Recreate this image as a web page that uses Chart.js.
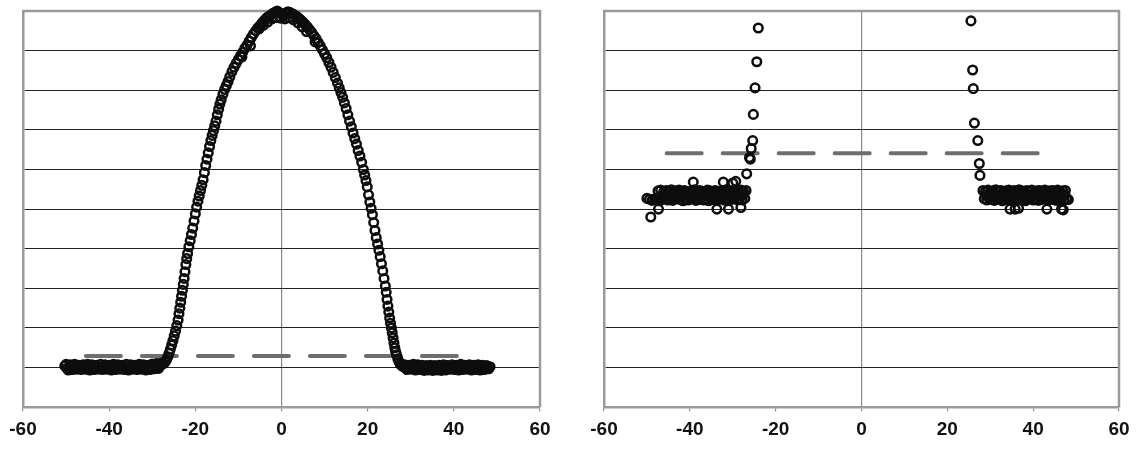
<!DOCTYPE html>
<html>
<head>
<meta charset="utf-8">
<script src="https://cdn.jsdelivr.net/npm/chart.js@4/dist/chart.umd.min.js"></script>
<style>
  body { margin: 0; background: #fff; }
  #wrap { position: relative; width: 1138px; height: 449px; overflow: hidden; }
  .box { position: absolute; top: 0; height: 449px; }
  #leftBox { left: 0; width: 570px; }
  #rightBox { left: 575px; width: 563px; }
</style>
</head>
<body>
<div id="wrap">
  <div class="box" id="leftBox"><canvas id="leftChart"></canvas></div>
  <div class="box" id="rightBox"><canvas id="rightChart"></canvas></div>
</div>
<script>
// x axis tick labels (shared by both panels)
const xTicks = [-60, -40, -20, 0, 20, 40, 60];

// Left panel: bell shaped profile
const leftX = [
  -50.3, -49.8, -49.3, -48.8, -48.3, -47.8, -47.3, -46.8, -46.3, -45.8, -45.3, -44.8, -44.3, -43.8, -43.3, -42.8,
  -42.3, -41.8, -41.3, -40.8, -40.3, -39.8, -39.3, -38.8, -38.3, -37.8, -37.3, -36.8, -36.3, -35.8, -35.3, -34.8,
  -34.3, -33.8, -33.3, -32.8, -32.3, -31.8, -31.3, -30.8, -30.3, -29.8, -29.3, -28.8, -28.3, -27.8, -27.4,
  -27.0, -26.7, -26.4, -26.1, -25.8, -25.5, -25.2, -24.9, -24.6, -24.3, -24.0, -23.8, -23.6, -23.4, -23.2, -23.0,
  -22.8, -22.6, -22.4, -22.2, -22.0, -21.8, -21.5, -21.2, -20.9, -20.6, -20.3, -20.0, -19.7, -19.4, -19.1, -18.8,
  -18.5, -18.2, -17.9, -17.6, -17.3, -17.0, -16.7, -16.4, -16.1, -15.8, -15.5, -15.2, -14.9, -14.6, -14.3, -14.0,
  -13.6, -13.2, -12.8, -12.4, -12.0, -11.5, -11.0, -10.5, -10.0, -9.5, -9.0, -8.5, -8.0, -7.5, -7.0, -6.5,
  -6.0, -5.5, -5.0, -4.5, -4.0, -3.5, -3.0, -2.5, -2.0, -1.5, -1.0, -0.5, 0.0, 0.5, 1.0, 1.5,
  2.0, 2.5, 3.0, 3.5, 4.0, 4.5, 5.0, 5.5, 6.0, 6.5, 7.0, 7.5, 8.0, 8.5, 9.0, 9.5,
  10.0, 10.5, 11.0, 11.5, 12.0, 12.5, 13.0, 13.4, 13.8, 14.2, 14.6, 15.0, 15.4, 15.8, 16.2, 16.6,
  17.0, 17.4, 17.8, 18.2, 18.6, 19.0, 19.3, 19.6, 19.9, 20.2, 20.5, 20.8, 21.1, 21.4, 21.7, 22.0,
  22.3, 22.6, 22.9, 23.2, 23.5, 23.8, 24.1, 24.3, 24.5, 24.7, 24.9, 25.1, 25.3, 25.5, 25.7, 25.9,
  26.1, 26.3, 26.5, 26.7, 27.0, 27.3, 27.6, 28.0,
  28.4, 28.9, 29.4, 29.9, 30.4, 30.9, 31.4, 31.9, 32.4, 32.9, 33.4, 33.9, 34.4, 34.9, 35.4, 35.9,
  36.4, 36.9, 37.4, 37.9, 38.4, 38.9, 39.4, 39.9, 40.4, 40.9, 41.4, 41.9, 42.4, 42.9, 43.4, 43.9,
  44.4, 44.9, 45.4, 45.9, 46.4, 46.9, 47.4, 47.9, 48.4,
  -9.2, -7.2, -5.2, -4.2, -3.2, -2.2, -1.2, -0.2, 0.8, 1.8, 2.8, 3.8, 4.8, 5.8, 7.8
];
const leftY = [
  1.04, 0.98, 0.96, 1.02, 1.05, 1.00, 0.99, 1.03, 1.06, 1.01, 0.98, 1.04, 1.02, 0.99, 1.05, 1.03,
  1.00, 0.97, 1.02, 1.06, 1.01, 0.99, 1.03, 1.05, 1.00, 0.98, 1.02, 1.04, 1.01, 0.97, 1.00, 1.03,
  1.05, 1.02, 0.99, 1.01, 1.06, 1.03, 0.98, 1.00, 1.04, 1.07, 1.02, 0.99, 1.03, 1.08, 1.10,
  1.14, 1.20, 1.27, 1.36, 1.46, 1.57, 1.68, 1.80, 1.92, 2.06, 2.20, 2.36, 2.50, 2.65, 2.80, 2.95,
  3.10, 3.25, 3.42, 3.60, 3.75, 3.88, 4.05, 4.20, 4.36, 4.52, 4.70, 4.88, 5.05, 5.20, 5.33, 5.47,
  5.60, 5.74, 5.92, 6.10, 6.26, 6.42, 6.58, 6.73, 6.86, 6.98, 7.10, 7.22, 7.38, 7.52, 7.65, 7.76,
  7.90, 8.02, 8.12, 8.22, 8.34, 8.47, 8.58, 8.68, 8.78, 8.87, 8.96, 9.06, 9.14, 9.24, 9.33, 9.42,
  9.50, 9.57, 9.63, 9.70, 9.76, 9.82, 9.86, 9.90, 9.94, 9.97, 10.00, 9.96, 9.92, 9.88, 9.95, 9.98,
  9.96, 9.93, 9.90, 9.86, 9.82, 9.77, 9.72, 9.66, 9.60, 9.53, 9.46, 9.38, 9.30, 9.21, 9.12, 9.02,
  8.92, 8.82, 8.70, 8.58, 8.45, 8.32, 8.18, 8.06, 7.94, 7.82, 7.68, 7.54, 7.38, 7.22, 7.08, 6.92,
  6.78, 6.64, 6.48, 6.34, 6.18, 6.00, 5.86, 5.72, 5.56, 5.36, 5.18, 5.02, 4.86, 4.66, 4.46, 4.28,
  4.12, 3.96, 3.80, 3.62, 3.44, 3.25, 3.06, 2.90, 2.72, 2.55, 2.40, 2.25, 2.12, 2.00, 1.88, 1.75,
  1.62, 1.50, 1.40, 1.32, 1.22, 1.14, 1.08, 1.04,
  1.02, 0.99, 1.03, 1.05, 1.00, 0.98, 1.02, 1.04, 1.01, 0.97, 1.00, 1.03, 0.99, 0.96, 1.01, 0.98,
  0.95, 1.00, 0.97, 1.02, 1.04, 0.99, 1.01, 0.97, 1.03, 1.00, 0.98, 1.02, 1.05, 1.01, 0.98, 0.96,
  1.00, 1.03, 1.01, 0.99, 1.02, 1.04, 1.00, 0.98, 1.02,
  8.84, 9.12, 9.55, 9.64, 9.72, 9.80, 9.84, 9.82, 9.80, 9.83, 9.78, 9.70, 9.60, 9.48, 9.22
];
// second, staggered row of baseline samples (makes the dense floor band)
const leftFloorX = [
  -50.0, -49.5, -49.0, -48.5, -48.0, -47.5, -47.0, -46.5, -46.0, -45.5, -45.0, -44.5, -44.0, -43.5, -43.0, -42.5,
  -42.0, -41.5, -41.0, -40.5, -40.0, -39.5, -39.0, -38.5, -38.0, -37.5, -37.0, -36.5, -36.0, -35.5, -35.0, -34.5,
  -34.0, -33.5, -33.0, -32.5, -32.0, -31.5, -31.0, -30.5, -30.0, -29.5, -29.0, -28.5, -28.0,
  28.6, 29.1, 29.6, 30.1, 30.6, 31.1, 31.6, 32.1, 32.6, 33.1, 33.6, 34.1, 34.6, 35.1, 35.6, 36.1,
  36.6, 37.1, 37.6, 38.1, 38.6, 39.1, 39.6, 40.1, 40.6, 41.1, 41.6, 42.1, 42.6, 43.1, 43.6, 44.1,
  44.6, 45.1, 45.6, 46.1, 46.6, 47.1, 47.6, 48.1
];
const leftFloorY = [
  1.08, 0.94, 1.07, 0.95, 1.08, 0.96, 1.06, 0.95, 1.07, 0.96, 1.08, 0.94, 1.07, 0.95, 1.06, 0.96,
  1.08, 0.95, 1.07, 0.96, 1.06, 0.94, 1.08, 0.95, 1.07, 0.96, 1.06, 0.95, 1.08, 0.94, 1.07, 0.96,
  1.06, 0.95, 1.08, 0.96, 1.07, 0.94, 1.06, 0.95, 1.09, 0.97, 1.10, 0.98, 1.11,
  1.07, 0.95, 1.06, 0.96, 1.08, 0.94, 1.07, 0.95, 1.06, 0.93, 1.05, 0.94, 1.06, 0.93, 1.05, 0.94,
  1.06, 0.93, 1.07, 0.94, 1.05, 0.96, 1.07, 0.95, 1.06, 0.94, 1.08, 0.95, 1.06, 0.96, 1.07, 0.94,
  1.06, 0.95, 1.07, 0.94, 1.06, 0.95, 1.05, 0.97
];
const leftDashX = [-45.4, 42.5];
const leftDashY = [1.29, 1.29];

// Right panel: two plateaus with spikes near the edges
const rightX = [
  -50.0, -49.4, -48.8, -48.2, -47.6, -47.0, -46.4, -45.8, -45.2, -44.6, -44.0, -43.4, -42.8, -42.2, -41.6, -41.0,
  -40.4, -39.8, -39.2, -38.6, -38.0, -37.4, -36.8, -36.2, -35.6, -35.0, -34.4, -33.8, -33.2, -32.6, -32.0, -31.4,
  -30.8, -30.2, -29.6, -29.0, -28.4, -27.8, -27.2,
  -47.4, -46.8, -46.1, -45.5, -44.9, -44.3, -43.7, -43.1, -42.5, -41.9, -41.3, -40.7, -40.1, -39.5, -38.9, -38.3,
  -37.7, -37.1, -36.5, -35.9, -35.3, -34.7, -34.1, -33.5, -32.9, -32.3, -31.7, -31.1, -30.5, -29.9, -29.3, -28.7,
  -28.1, -27.5, -26.9,
  -46.0, -45.2, -44.4, -43.6, -42.8, -42.0, -41.2, -40.4, -39.6, -38.8, -38.0, -37.2, -36.4, -35.6, -34.8, -34.0,
  -33.2, -32.4, -31.6, -30.8, -30.0, -29.2, -28.4, -27.6,
  -49.1, -47.3, -39.2, -33.7, -32.2, -31.0, -30.0, -29.3, -28.1,
  -26.75, -26.1, -25.9, -25.7, -25.35, -25.2, -24.8, -24.4, -24.05,
  28.6, 29.2, 29.8, 30.4, 31.0, 31.6, 32.2, 32.8, 33.4, 34.0, 34.6, 35.2, 35.8, 36.4, 37.0, 37.6,
  38.2, 38.8, 39.4, 40.0, 40.6, 41.2, 41.8, 42.4, 43.0, 43.6, 44.2, 44.8, 45.4, 46.0, 46.6, 47.2, 47.8,
  28.3, 28.9, 29.5, 30.1, 30.7, 31.3, 31.9, 32.5, 33.1, 33.7, 34.3, 34.9, 35.5, 36.1, 36.7, 37.3,
  37.9, 38.5, 39.1, 39.7, 40.3, 40.9, 41.5, 42.1, 42.7, 43.3, 43.9, 44.5, 45.1, 45.7, 46.3, 46.9, 47.5,
  29.0, 29.8, 30.6, 31.4, 32.2, 33.0, 33.8, 34.6, 35.4, 36.2, 37.0, 37.8, 38.6, 39.4, 40.2, 41.0,
  41.8, 42.6, 43.4, 44.2, 45.0, 45.8, 46.6, 47.4,
  34.6, 35.8, 36.6, 43.2, 46.6, 47.0, 48.2,
  25.5, 25.9, 26.05, 26.3, 27.1, 27.45, 27.6
];
const rightY = [
  5.27, 5.25, 5.22, 5.26, 5.24, 5.21, 5.25, 5.27, 5.23, 5.26, 5.22, 5.25, 5.28, 5.24, 5.21, 5.26,
  5.23, 5.27, 5.25, 5.22, 5.24, 5.28, 5.23, 5.25, 5.21, 5.26, 5.24, 5.22, 5.27, 5.25, 5.23, 5.26,
  5.22, 5.25, 5.28, 5.24, 5.26, 5.23, 5.27,
  5.46, 5.48, 5.44, 5.47, 5.45, 5.49, 5.43, 5.46, 5.48, 5.44, 5.47, 5.45, 5.42, 5.46, 5.49, 5.44,
  5.47, 5.45, 5.43, 5.48, 5.46, 5.44, 5.47, 5.45, 5.42, 5.46, 5.48, 5.44, 5.45, 5.47, 5.43, 5.46,
  5.48, 5.45, 5.47,
  5.36, 5.34, 5.37, 5.35, 5.33, 5.36, 5.38, 5.34, 5.36, 5.35, 5.37, 5.33, 5.36, 5.34, 5.37, 5.35,
  5.36, 5.34, 5.37, 5.35, 5.33, 5.36, 5.35, 5.37,
  4.80, 5.00, 5.68, 5.00, 5.68, 5.00, 5.66, 5.70, 5.04,
  5.89, 6.30, 6.26, 6.53, 6.73, 7.39, 8.06, 8.72, 9.57,
  5.26, 5.23, 5.27, 5.24, 5.22, 5.26, 5.25, 5.21, 5.27, 5.24, 5.22, 5.25, 5.27, 5.23, 5.26, 5.24,
  5.21, 5.25, 5.27, 5.23, 5.26, 5.22, 5.24, 5.27, 5.25, 5.23, 5.26, 5.24, 5.22, 5.27, 5.25, 5.23, 5.26,
  5.47, 5.45, 5.48, 5.44, 5.46, 5.49, 5.45, 5.47, 5.43, 5.46, 5.48, 5.44, 5.47, 5.45, 5.49, 5.46,
  5.44, 5.47, 5.45, 5.48, 5.43, 5.46, 5.47, 5.45, 5.48, 5.44, 5.46, 5.47, 5.45, 5.48, 5.44, 5.46, 5.47,
  5.35, 5.37, 5.34, 5.36, 5.33, 5.36, 5.35, 5.37, 5.34, 5.36, 5.35, 5.33, 5.37, 5.35, 5.36, 5.34,
  5.36, 5.35, 5.37, 5.34, 5.36, 5.35, 5.33, 5.36,
  5.00, 5.00, 5.02, 5.00, 5.00, 4.98, 5.24,
  9.75, 8.51, 8.04, 7.17, 6.73, 6.15, 5.85
];
const rightDashX = [-45.4, 41.8];
const rightDashY = [6.41, 6.41];

const toPoints = (xs, ys) => xs.map((x, i) => ({ x: x, y: ys[i] }));

// top + right edge of the plot area (Excel style frame)
const frame = {
    id: 'frame',
    beforeDatasetsDraw(chart) {
        const { ctx, chartArea: a } = chart;
        ctx.save();
        ctx.strokeStyle = '#9a9a9a';
        ctx.lineWidth = 2.5;
        ctx.beginPath();
        ctx.moveTo(a.left, a.top);
        ctx.lineTo(a.right, a.top);
        ctx.lineTo(a.right, a.bottom);
        ctx.stroke();
        ctx.restore();
    }
};

function makeChart(id, points, dashX, dashY, pad) {
    const ctx = document.getElementById(id).getContext('2d');
    return new Chart(ctx, {
        type: 'scatter',
        data: {
            datasets: [
                {
                    data: points,
                    pointStyle: 'circle',
                    pointRadius: 4.3,
                    borderWidth: 2.5,
                    borderColor: '#0d0d0d',
                    backgroundColor: 'rgba(255,255,255,0)',
                    clip: false,
                    order: 0
                },
                {
                    data: toPoints(dashX, dashY),
                    showLine: true,
                    pointRadius: 0,
                    borderColor: '#6e6e6e',
                    borderWidth: 4,
                    borderDash: [35, 21],
                    borderCapStyle: 'round',
                    clip: false,
                    order: 1
                }
            ]
        },
        options: {
            responsive: true,
            maintainAspectRatio: false,
            animation: false,
            events: [],
            layout: { padding: pad },
            plugins: {
                legend: { display: false },
                tooltip: { enabled: false }
            },
            scales: {
                x: {
                    type: 'linear',
                    min: -60,
                    max: 60,
                    afterBuildTicks: axis => { axis.ticks = xTicks.map(v => ({ value: v })); },
                    border: { display: true, color: '#9a9a9a', width: 2.5 },
                    grid: {
                        color: c => (c.tick && c.tick.value === 0) ? '#8a8a8a' : 'rgba(0,0,0,0)',
                        lineWidth: 1.2,
                        tickColor: '#8a8a8a',
                        tickLength: 4
                    },
                    ticks: {
                        color: '#111',
                        padding: 7,
                        maxRotation: 0,
                        font: { family: '"Liberation Sans", Arial, sans-serif', size: 19, weight: 'bold' }
                    }
                },
                y: {
                    min: 0,
                    max: 10,
                    ticks: { display: false, stepSize: 1 },
                    border: { display: true, color: '#9a9a9a', width: 2.5 },
                    grid: {
                        drawTicks: false,
                        color: c => (c.tick && (c.tick.value === 0 || c.tick.value === 10)) ? '#9a9a9a' : '#222',
                        lineWidth: 1
                    }
                }
            }
        },
        plugins: [frame]
    });
}

makeChart('leftChart', toPoints(leftX, leftY).concat(toPoints(leftFloorX, leftFloorY)),
    leftDashX, leftDashY, { left: 23, right: 30, top: 11, bottom: 1 });
makeChart('rightChart', toPoints(rightX, rightY),
    rightDashX, rightDashY, { left: 29, right: 19, top: 11, bottom: 1 });
</script>
</body>
</html>
